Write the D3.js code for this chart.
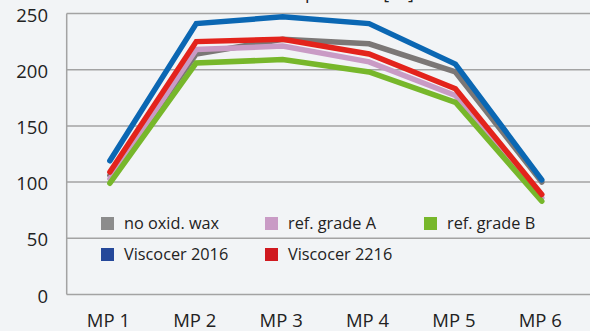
<!DOCTYPE html>
<html>
<head>
<meta charset="utf-8">
<script src="https://cdn.jsdelivr.net/npm/d3@7"></script>
<style>
  html, body { margin: 0; padding: 0; background: #f2f4f6; }
  svg { display: block; font-family: "Open Sans", "Noto Sans", sans-serif; }
</style>
</head>
<body>
<svg id="chart" width="590" height="331"></svg>
<script>
// Measuring points along the x axis
const categories = ["MP 1", "MP 2", "MP 3", "MP 4", "MP 5", "MP 6"];
const yTicks = [0, 50, 100, 150, 200, 250];

// Temperature readings per wax grade
const noOxidWax    = [106, 214, 227, 223, 198, 100];
const refGradeA    = [103, 218, 221, 207, 177, 86];
const refGradeB    = [99, 206, 209, 198, 171, 83];
const viscocer2016 = [119, 241, 247, 241, 205, 102];
const viscocer2216 = [109, 225, 227, 214, 183, 89];

const seriesNames = ["no oxid. wax", "ref. grade A", "ref. grade B", "Viscocer 2016", "Viscocer 2216"];

const series = [
  { name: seriesNames[0], values: noOxidWax,    line: "#7b7776", key: "#8c8c8c" },
  { name: seriesNames[1], values: refGradeA,    line: "#c99bc5", key: "#c99bc5" },
  { name: seriesNames[2], values: refGradeB,    line: "#77b72b", key: "#77b72b" },
  { name: seriesNames[3], values: viscocer2016, line: "#0b67b3", key: "#25489a" },
  { name: seriesNames[4], values: viscocer2216, line: "#e3231c", key: "#d0191f" }
];

const svg = d3.select("#chart");
const plotLeft = 66.7, plotRight = 585, plotTop = 13.5, plotBottom = 294.5;

const x = d3.scalePoint().domain(categories).range([plotLeft, plotRight]).padding(0.5);
const y = d3.scaleLinear().domain([0, 250]).range([plotBottom, plotTop]);

// Title (sits above the visible area; only its descenders reach the top edge)
svg.append("text")
  .attr("x", 414).attr("y", -1.5)
  .attr("text-anchor", "end")
  .attr("font-size", 18)
  .attr("fill", "#222")
  .text("Melt temperature [°C]");

// Horizontal gridlines
svg.append("g")
  .selectAll("line")
  .data(yTicks)
  .join("line")
  .attr("x1", plotLeft).attr("x2", 590)
  .attr("y1", d => y(d)).attr("y2", d => y(d))
  .attr("stroke", "#a3a3a3")
  .attr("stroke-width", 1.5);

// Left axis line
svg.append("line")
  .attr("x1", plotLeft).attr("x2", plotLeft)
  .attr("y1", y(250)).attr("y2", y(0))
  .attr("stroke", "#a3a3a3")
  .attr("stroke-width", 1.5);

// Y tick labels
svg.append("g")
  .selectAll("text")
  .data(yTicks)
  .join("text")
  .attr("x", 48)
  .attr("y", d => y(d) + 8)
  .attr("text-anchor", "end")
  .attr("font-size", 18.5)
  .attr("fill", "#222")
  .text(d => d);

// X category labels
svg.append("g")
  .selectAll("text")
  .data(categories)
  .join("text")
  .attr("x", d => x(d) - 1.5)
  .attr("y", 327)
  .attr("text-anchor", "middle")
  .attr("font-size", 18.5)
  .attr("fill", "#222")
  .text(d => d);

// Series lines
const line = d3.line()
  .x((d, i) => x(categories[i]))
  .y(d => y(d));

svg.append("g")
  .selectAll("path")
  .data(series)
  .join("path")
  .attr("d", d => line(d.values))
  .attr("fill", "none")
  .attr("stroke", d => d.line)
  .attr("stroke-width", 5.5)
  .attr("stroke-linecap", "round")
  .attr("stroke-linejoin", "miter");

// Legend: three columns, two rows
const legendCols = [101, 265, 424];
const legendRows = [217, 248];
const legend = svg.append("g")
  .selectAll("g")
  .data(series)
  .join("g")
  .attr("transform", (d, i) => `translate(${legendCols[i % 3]},${legendRows[Math.floor(i / 3)]})`);

legend.append("rect")
  .attr("width", 13).attr("height", 13)
  .attr("fill", d => d.key);

legend.append("text")
  .attr("x", 23)
  .attr("y", 11.5)
  .attr("font-size", 16.3)
  .attr("fill", "#222")
  .text(d => d.name);
</script>
</body>
</html>
